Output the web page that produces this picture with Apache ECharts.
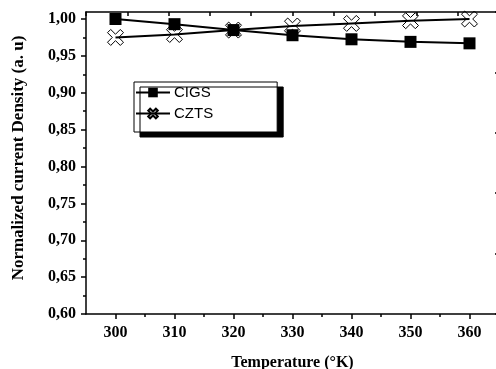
<!DOCTYPE html>
<html>
<head>
<meta charset="utf-8">
<script src="https://cdn.jsdelivr.net/npm/echarts@6/dist/echarts.min.js"></script>
<style>html,body{margin:0;padding:0;background:#fff;}#c{width:496px;height:369px;}</style>
</head>
<body>
<div id="c"></div>
<script>
const temperatures = [300, 310, 320, 330, 340, 350, 360];
const cigs = [1.000, 0.993, 0.985, 0.978, 0.9725, 0.969, 0.967];
const czts = [0.975, 0.979, 0.985, 0.9905, 0.994, 0.9977, 1.000];
const xTickLabels = [300, 310, 320, 330, 340, 350, 360];
const xMinorTicks = [305, 315, 325, 335, 345, 355];
const yTickLabels = [0.60, 0.65, 0.70, 0.75, 0.80, 0.85, 0.90, 0.95, 1.00];
const yMinorTicks = [0.625, 0.675, 0.725, 0.775, 0.825, 0.875, 0.925, 0.975];
const seriesNames = ['CIGS', 'CZTS'];

const serif = 'Liberation Serif, Times New Roman, serif';
const sans = 'Liberation Sans, Arial, sans-serif';
const crossX = 'path://M0,2L2,0L5,3L8,0L10,2L7,5L10,8L8,10L5,7L2,10L0,8L3,5Z';

const chart = echarts.init(document.getElementById('c'), null, {renderer: 'canvas'});
const line = {color: '#000', width: 1.5};
chart.setOption({
  animation: false,
  backgroundColor: '#fff',
  grid: {left: 86, top: 12, right: -3, bottom: 55, containLabel: false, outerBoundsMode: 'none'},
  legend: {
    orient: 'vertical', left: 134, top: 82,
    data: seriesNames,
    itemWidth: 34, itemHeight: 12, itemGap: 6,
    padding: [3, 64, 11, 1],
    backgroundColor: '#fff', borderColor: '#000', borderWidth: 1,
    shadowColor: '#000', shadowBlur: 0, shadowOffsetX: 6, shadowOffsetY: 5,
    textStyle: {fontFamily: sans, fontSize: 15, color: '#000', padding: [0,0,0,-1]}
  },
  xAxis: [
    {type: 'value', position: 'bottom', min: 295, max: 365,
     name: 'Temperature (°K)', nameLocation: 'middle', nameGap: 41,
     nameTextStyle: {fontFamily: serif, fontWeight: 'bold', fontSize: 16, color: '#000'},
     axisLine: {lineStyle: line},
     axisTick: {show: true, inside: false, length: 5, lineStyle: line, customValues: xTickLabels},
     axisLabel: {fontFamily: serif, fontWeight: 'bold', fontSize: 16, color: '#000', margin: 11, customValues: xTickLabels},
     splitLine: {show: false}},
    {type: 'value', position: 'bottom', min: 295, max: 365,
     axisLine: {show: false},
     axisTick: {show: true, inside: false, length: 3, lineStyle: line, customValues: xMinorTicks},
     axisLabel: {show: false}, splitLine: {show: false}},
    {type: 'value', position: 'top', min: 0, max: 10, interval: 1,
     axisLine: {lineStyle: line},
     axisTick: {show: true, inside: true, length: 4, lineStyle: line},
     axisLabel: {show: false}, splitLine: {show: false}}
  ],
  yAxis: [
    {type: 'value', position: 'left', min: 0.6, max: 1.0095,
     axisLine: {show: true, lineStyle: line},
     axisTick: {show: true, inside: false, length: 5, lineStyle: line, customValues: yTickLabels},
     axisLabel: {fontFamily: serif, fontWeight: 'bold', fontSize: 16, color: '#000', margin: 10,
       customValues: yTickLabels,
       formatter: v => v.toFixed(2).replace('.', ',')},
     splitLine: {show: false}},
    {type: 'value', position: 'left', min: 0.6, max: 1.0095,
     axisLine: {show: false},
     axisTick: {show: true, inside: false, length: 3, lineStyle: line, customValues: yMinorTicks},
     axisLabel: {show: false}, splitLine: {show: false}},
    {type: 'value', position: 'right', min: 0, max: 5, interval: 1,
     axisLine: {show: true, lineStyle: line},
     axisTick: {show: true, inside: true, length: 4, lineStyle: line},
     axisLabel: {show: false}, splitLine: {show: false}}
  ],
  graphic: [{
    type: 'text', x: 19, y: 158, rotation: Math.PI / 2,
    style: {text: 'Normalized current Density (a. u)', fontFamily: serif, fontWeight: 'bold', fontSize: 17,
      fill: '#000', align: 'center', verticalAlign: 'middle'}
  }],
  series: [
    {name: seriesNames[0], type: 'line', xAxisIndex: 0, yAxisIndex: 0, z: 3,
     data: temperatures.map((t, i) => [t, cigs[i]]),
     symbol: 'rect', symbolSize: 12,
     lineStyle: {color: '#000', width: 2},
     itemStyle: {color: '#000'}},
    {name: seriesNames[1], type: 'line', xAxisIndex: 0, yAxisIndex: 0, z: 2,
     data: temperatures.map((t, i) => [t, czts[i]]),
     symbol: crossX, symbolSize: 16,
     lineStyle: {color: '#000', width: 2},
     itemStyle: {color: 'rgba(0,0,0,0)', borderColor: '#000', borderWidth: 1}}
  ]
});
</script>
</body>
</html>
